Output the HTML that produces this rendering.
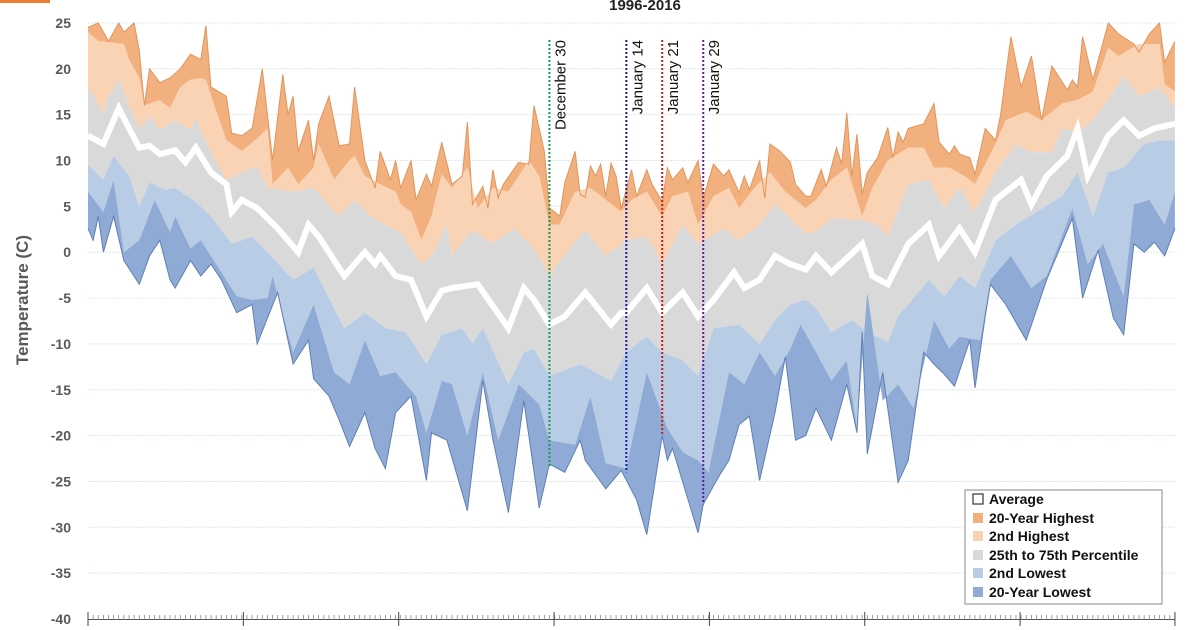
<!DOCTYPE html>
<html><head><meta charset="utf-8"><style>
html,body{margin:0;padding:0;background:#fff;}
svg{display:block;font-family:"Liberation Sans",sans-serif;}
</style></head><body>
<svg id="chart" width="1200" height="630" viewBox="0 0 1200 630">
<rect x="0" y="0" width="50" height="3" fill="#ed7d31"/>
<text transform="translate(28,300) rotate(-90)" text-anchor="middle" font-size="17" font-weight="bold" fill="#595959">Temperature (C)</text>
<g id="grid"></g><g id="bands"></g><g id="lines"></g><g id="axes"></g><g id="markers"></g>
<text x="645" y="10" text-anchor="middle" font-size="15" font-weight="bold" fill="#222">1996-2016</text>
<g>
<rect x="965" y="490" width="197" height="114" fill="#fff" stroke="#888" stroke-width="1"/>
<rect x="973" y="494" width="10" height="10" fill="#fff" stroke="#333" stroke-width="1.2"/>
<text x="989" y="504" font-size="14" font-weight="bold" fill="#111">Average</text>
<rect x="973" y="513" width="10" height="10" fill="#f2b07e"/>
<text x="989" y="523" font-size="14" font-weight="bold" fill="#111">20-Year Highest</text>
<rect x="973" y="531" width="10" height="10" fill="#f9d3b4"/>
<text x="989" y="541" font-size="14" font-weight="bold" fill="#111">2nd Highest</text>
<rect x="973" y="550" width="10" height="10" fill="#d9d9d9"/>
<text x="989" y="560" font-size="14" font-weight="bold" fill="#111">25th to 75th Percentile</text>
<rect x="973" y="568" width="10" height="10" fill="#b8cce6"/>
<text x="989" y="578" font-size="14" font-weight="bold" fill="#111">2nd Lowest</text>
<rect x="973" y="587" width="10" height="10" fill="#8faad5"/>
<text x="989" y="597" font-size="14" font-weight="bold" fill="#111">20-Year Lowest</text>
</g>
</svg>
<script>
const yTicks = [25,20,15,10,5,0,-5,-10,-15,-20,-25,-30,-35,-40];
const maxDays = [0,2,4,6,7,9,10,11,12,14,16,18,20,22,23,24,27,28,30,32,34,36,38,39,40,41,43,44,45,47,49,51,52,54,56,57,59,60,61,63,64,66,67,69,71,73,74,75,77,78,79,80,81,84,86,87,89,90,91,92,93,95,96,97,98,99,100,101,102,103,104,106,107,109,110,112,113,114,116,117,119,120,122,124,125,127,128,129,131,132,133,135,137,138,140,141,143,144,146,147,148,149,150,151,152,154,156,157,158,159,160,163,165,166,168,169,170,172,173,175,177,178,180,182,184,186,188,191,192,193,194,196,199,201,204,205,207,209,210,212];
const maxVals = [24.5,25,23,25,24,25,22,16,20,18.5,19,20,21.6,21,24.7,18,17,13,12.7,13.5,20,10,19.4,15,17,11,14.4,10,14,17,11.6,11.8,18,10,7,11,7.9,10,7,10,5.7,8.5,7.2,12,7.4,8.3,14.2,5.2,7.2,4.8,9,5.9,7.4,9.8,9.6,16,11,4.8,4.4,3.9,7.6,11,6.3,6,9.4,8.3,9.6,6.1,9.7,8.3,4.8,9,6.1,9,7.4,5.5,9.2,7.9,9.2,7.6,10,5.9,9.6,8.3,9,6.5,8.3,6.8,10,5.9,11.8,11,9.8,7.4,6.1,6.1,9,7.2,11.4,9.6,15.2,8.3,12.9,6.3,8.7,10.3,13.6,10.3,13.1,12,13.5,14,16.2,12,10.7,11.6,10.7,10.3,8.5,13.5,12.2,15,23.5,18,21.4,14.4,20.3,17.7,18.8,18,23.5,18.8,25,23.8,22.7,21.8,23.8,25,20.7,23];
const high2Days = [0,2,7,8,10,11,14,16,18,20,22,23,24,27,30,33,35,36,39,41,44,45,48,51,52,54,57,60,61,63,65,67,69,71,74,76,79,82,84,86,88,90,92,95,98,101,104,106,109,112,114,117,119,122,125,127,130,133,136,140,142,145,148,151,153,156,160,163,165,168,171,173,177,179,183,186,190,193,196,199,201,205,209,210,212];
const high2Vals = [24,23,22.7,21,19,16,16.6,15.7,18,18.8,19,18.8,17,12.2,11,12.4,13.5,7.4,9.2,7.4,9.2,11.8,7.9,10,10.5,8.3,7.4,6.6,5.2,4.4,1.3,3.9,8.5,7,9.2,4.8,7,6.6,8.3,10,8.3,3,3,6.6,7,5.7,4.4,5.7,6.6,3.9,6.1,6.6,3,6.1,7,4.8,7,8.7,6.6,4.8,5.7,7.9,9.2,3.9,7,10,11.4,11.4,9.2,9.2,8.3,7.4,11.8,14.4,15.3,14.4,16.2,16.6,17.5,22.3,21.4,22.7,22.7,18.3,17.5];
const p75Days = [0,3,4,6,8,10,12,14,17,20,21,24,27,30,33,35,40,44,49,52,55,58,61,65,67,70,71,75,79,83,87,90,92,97,101,105,109,112,116,119,124,127,131,134,137,140,142,145,151,154,156,160,164,167,170,173,177,181,184,188,190,193,196,199,202,205,209,212];
const p75Vals = [18.1,15,17,18.8,16,13.5,14.8,13.3,14.4,13.3,14.6,10.9,7.9,8.7,9.4,7,6.6,7,3.9,5.7,3.9,3,2.2,-1.3,-0.4,3,-0.4,2.4,0.9,2.6,0.4,-2.6,-0.9,2.4,-0.4,1.3,1.7,-1.3,3,0.9,2.6,1.3,3,5.2,3.7,2,2.2,3.7,3.5,3,1.7,7.4,7.9,4.8,7,4.4,8.7,11.8,10.9,10.9,13.5,13.1,14.4,16.6,19.2,17,17.9,15.7];
const avgDays = [0,3,6,8,10,12,14,17,19,21,24,27,28,30,33,37,41,43,45,50,54,56,57,60,63,66,69,71,76,82,85,87,90,93,97,102,104,105,109,112,116,119,122,126,128,131,134,137,140,142,145,151,153,156,160,164,166,170,173,177,182,184,187,191,193,195,199,202,205,208,212];
const avgVals = [12.7,11.8,15.7,13.5,11.4,11.6,10.7,11.1,9.8,11.4,8.7,7.4,4.4,5.7,4.8,2.6,0,3,1.7,-2.6,0,-1.3,-0.4,-2.6,-3,-7,-4.2,-3.9,-3.5,-8.3,-3.9,-5.2,-7.9,-7,-4.4,-7.9,-6.6,-6.6,-3.9,-6.6,-4.4,-7,-5.2,-2.2,-3.9,-3,-0.4,-1.3,-1.9,-0.4,-2.2,0.9,-2.6,-3.5,0.9,3,-0.4,2.6,0,5.7,7.9,5.2,8.3,10.5,13.5,8.3,12.7,14.4,12.7,13.5,14];
const p25Days = [0,3,5,8,10,12,15,17,21,24,28,32,35,40,44,50,54,58,62,66,69,73,75,77,82,85,87,90,96,102,105,109,112,116,119,122,127,131,134,137,140,142,145,149,152,156,158,164,167,170,173,177,181,185,190,193,196,199,202,206,209,212];
const p25Vals = [9.6,7.9,10.5,8.3,5,7.6,6.8,7,5.5,3.9,0.9,1.7,0,-3,-1.7,-8.3,-6.6,-8.3,-8.7,-12.2,-9,-8.3,-10,-8.3,-14.4,-10.9,-10.5,-13.5,-12.2,-14,-10.9,-9.2,-10.9,-11.8,-13.5,-8.3,-7.9,-10,-7.4,-5.7,-5.2,-6.1,-8.7,-7.4,-8.7,-9.8,-7,-3,-4.8,-2.6,-3.9,1.3,3,4.4,6.1,8.7,3.9,8.7,9.2,11.8,12.2,12.2];
const low2Days = [0,3,5,7,10,13,16,17,20,22,25,29,32,35,36,40,44,48,51,54,57,60,64,66,69,71,74,77,80,84,88,90,95,98,101,105,109,113,116,119,121,125,128,131,134,137,139,142,145,148,150,152,155,158,161,165,168,170,174,176,180,184,187,192,195,198,202,204,207,210,212];
const low2Vals = [6.6,4.4,7.9,0,1.3,5.7,2.2,3.9,0.4,1.3,-1.3,-4.8,-5.2,-5,-2.6,-10.9,-5.7,-13.1,-14.4,-9.6,-13.5,-13.1,-15.7,-19.7,-14,-14.4,-20,-13.1,-20.5,-14.4,-16.6,-20.5,-21,-15.7,-23,-23.6,-13.1,-19.2,-21.8,-22.7,-24,-13.1,-14.4,-10.9,-13.5,-10.5,-7.9,-10.9,-14,-11.8,-19.2,-4.4,-16.2,-14.4,-17,-7.4,-10.5,-9.2,-9.6,-3,-0.4,-3.9,-2.6,4.8,-1.3,0.9,-4.8,5.2,5.7,3,6.6];
const minDays = [0,1,2,3,5,7,10,12,14,16,17,20,22,24,26,29,32,33,37,40,43,44,47,49,51,54,56,58,60,63,66,67,70,74,77,79,82,85,88,90,93,96,97,101,104,107,109,112,113,114,119,120,123,125,127,129,131,134,136,138,140,142,145,148,150,151,152,155,158,160,163,165,167,169,172,173,175,176,179,183,187,192,194,197,200,202,204,206,208,210,212];
const minVals = [2.6,1.3,3.9,0,3.9,-0.9,-3.5,-0.4,1.3,-3,-3.9,-0.9,-2.6,-1.3,-3,-6.6,-5.7,-10,-4.4,-12.2,-9.6,-13.8,-15.7,-18.3,-21.2,-17.5,-21.4,-23.6,-17.5,-15.7,-24.9,-19.7,-20.5,-28.2,-14,-20.5,-28.4,-16.2,-27.9,-23.1,-24,-20.5,-22.7,-25.8,-23.8,-27,-30.8,-20,-22.7,-21.4,-30.6,-27.5,-24.5,-22.7,-18.8,-17.9,-24.9,-17.5,-11.4,-20.5,-20,-17,-20.5,-14.4,-19.7,-8.7,-22,-13.1,-25.1,-22.7,-10.9,-12.2,-13.3,-14.6,-9.6,-14.8,-7,-3.5,-5.7,-9.6,-3,3.7,-5,0.2,-7.2,-9,0.9,0,1.1,-0.4,2.6];
const markerDays = [90,105,112,120];
const markerLabels = ["December 30","January 14","January 21","January 29"];
const markerBottoms = [-23.5,-24,-20,-27.5];
const majorTickDays = [0,30.3,60.6,90.9,121.2,151.5,181.8,212];

const NS = "http://www.w3.org/2000/svg";
const X0 = 88, PX_PER_DAY = 5.127, Y0 = 252.2, PX_PER_DEG = 9.17;
const xS = d => X0 + d * PX_PER_DAY;
const yS = v => Y0 - v * PX_PER_DEG;
function mk(tag, attrs, parent){ const e=document.createElementNS(NS,tag); for(const k in attrs) e.setAttribute(k,attrs[k]); parent.appendChild(e); return e; }
function pts(days, vals){ return days.map((d,i)=>xS(d).toFixed(1)+","+yS(vals[i]).toFixed(1)); }

const grid = document.getElementById("grid");
const axes = document.getElementById("axes");
yTicks.forEach(t=>{
  if (t > -40) {
    const gl = mk("line",{x1:88,x2:1175,y1:yS(t),y2:yS(t),stroke:"#dfe8e8","stroke-width":1,"stroke-dasharray":"2,1"},grid);
    
    
  }
  const tl = mk("text",{x:71,y:yS(t)+5,"text-anchor":"end","font-size":14,"font-weight":"bold",fill:"#595959"},axes);
  tl.textContent = t;
  
  
});
const bands = document.getElementById("bands");
const bandDefs = [
  [maxDays,maxVals,high2Days,high2Vals,"#f2b07e","band-highest"],
  [high2Days,high2Vals,p75Days,p75Vals,"#f9d3b4","band-2nd-highest"],
  [p75Days,p75Vals,p25Days,p25Vals,"#d9d9d9","band-percentile"],
  [p25Days,p25Vals,low2Days,low2Vals,"#b8cce6","band-2nd-lowest"],
  [low2Days,low2Vals,minDays,minVals,"#8faad5","band-lowest"]
];
bandDefs.forEach(b=>{
  const up = pts(b[0],b[1]); const lo = pts(b[2],b[3]).reverse();
  const p = mk("polygon",{points:up.concat(lo).join(" "),fill:b[4],stroke:"none"},bands);
  
  
});
const lines = document.getElementById("lines");
const avgLine = mk("polyline",{points:pts(avgDays,avgVals).join(" "),fill:"none",stroke:"#fff","stroke-width":6,"stroke-linejoin":"miter"},lines);


const maxLine = mk("polyline",{points:pts(maxDays,maxVals).join(" "),fill:"none",stroke:"#e0955c","stroke-width":1},lines);


const minLine = mk("polyline",{points:pts(minDays,minVals).join(" "),fill:"none",stroke:"#5f7fb5","stroke-width":1},lines);


const cov = mk("rect",{x:80,y:4,width:1110,height:yS(25)-4.5,fill:"#fff"},lines);



const ax = mk("line",{x1:88,x2:1175,y1:619.5,y2:619.5,stroke:"#555","stroke-width":1},axes);


for(let d=0; d<=212; d++){
  const mt = mk("line",{x1:xS(d),x2:xS(d),y1:615,y2:620,stroke:"#777","stroke-width":0.7},axes);
  
  
}
majorTickDays.forEach(d=>{
  const t = mk("line",{x1:xS(d),x2:xS(d),y1:612,y2:626,stroke:"#444","stroke-width":1},axes);
  
  
});
const colors = ["#1a9b4f","#1a1aa8","#d01a1a","#6a1aa0"];
const markers = document.getElementById("markers");
markerDays.forEach((d,i)=>{
  const l = mk("line",{x1:xS(d),x2:xS(d),y1:40,y2:yS(markerBottoms[i]),stroke:colors[i],"stroke-width":2,"stroke-dasharray":"2,2"},markers);
  
  
  const t = mk("text",{transform:"translate("+(xS(d)+16)+",40) rotate(-90)","text-anchor":"end","font-size":15,fill:"#111"},markers);
  t.textContent = markerLabels[i];
  
  
});
</script>
</body></html>
